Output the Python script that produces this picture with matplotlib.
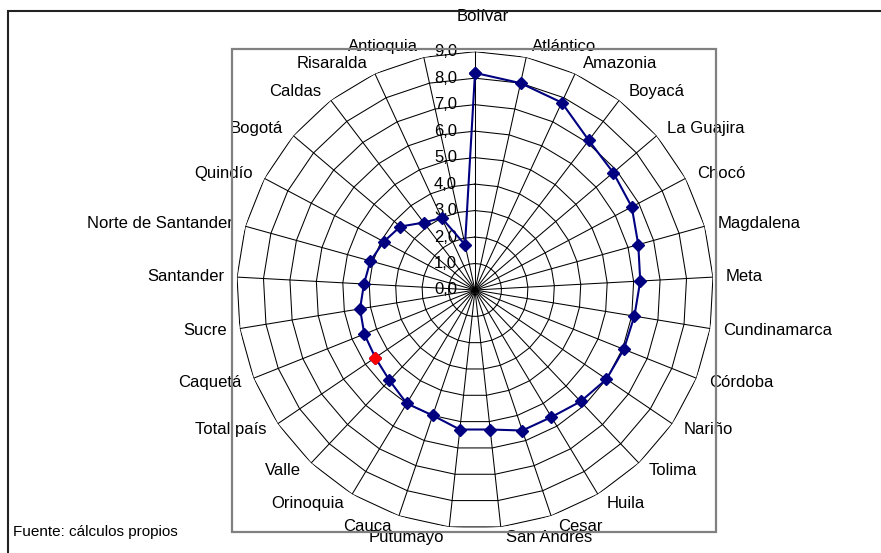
import numpy as np
import matplotlib.pyplot as plt
from matplotlib.patches import Rectangle

# indicador por departamento / región, ordenado de mayor a menor
categorias = ['Bolívar', 'Atlántico', 'Amazonia', 'Boyacá', 'La Guajira', 'Chocó',
              'Magdalena', 'Meta', 'Cundinamarca', 'Córdoba', 'Nariño', 'Tolima',
              'Huila', 'Cesar', 'San Andrés', 'Putumayo', 'Cauca', 'Orinoquia',
              'Valle', 'Total país', 'Caquetá', 'Sucre', 'Santander',
              'Norte de Santander', 'Quindío', 'Bogotá', 'Caldas', 'Risaralda',
              'Antioquia']
valores = [8.2, 8.0, 7.8, 7.1, 6.85, 6.7, 6.4, 6.25, 6.1, 6.05, 6.0, 5.8,
           5.6, 5.6, 5.3, 5.3, 5.0, 5.0, 4.7, 4.55, 4.5, 4.4, 4.2, 4.1, 3.9,
           3.7, 3.2, 3.0, 1.75]
anillos = np.arange(0, 10)
destacado = 'Total país'

plt.rcParams['font.family'] = ['Liberation Sans', 'DejaVu Sans']

W, H = 881, 553
fig = plt.figure(figsize=(W / 100, H / 100), dpi=100)

# marco exterior y área de trazado
fig.patches.append(Rectangle((8 / W, -0.1), 1.2, 1 - 11 / H + 0.1,
                             transform=fig.transFigure, fill=False,
                             edgecolor='#222222', linewidth=1.5, clip_on=False))
fig.patches.append(Rectangle((232 / W, (H - 532) / H), 484 / W, 483 / H,
                             transform=fig.transFigure, fill=False,
                             edgecolor='#808080', linewidth=1.6))

cx, cy, R = 475, 290, 238.3
ax = fig.add_axes([(cx - R) / W, (H - cy - R) / H, 2 * R / W, 2 * R / H],
                  projection='polar')
ax.set_theta_zero_location('N')
ax.set_theta_direction(-1)
ax.set_ylim(0, 9)
ax.grid(False)
ax.set_xticks([])
ax.set_yticks([])
ax.spines['polar'].set_visible(False)
ax.patch.set_alpha(0)

n = len(categorias)
theta = np.arange(n) * 2 * np.pi / n
theta_c = np.append(theta, theta[0])

# rejilla poligonal y radios
for r in anillos[1:]:
    ax.plot(theta_c, np.full(n + 1, r), color='black', lw=0.75, zorder=1)
for t in theta:
    ax.plot([t, t], [0, 9.12], color='black', lw=0.75, zorder=1)

# etiquetas del eje de valores
for r in anillos:
    ax.annotate(f'{r:.1f}'.replace('.', ','), xy=(0, r), xytext=(-18, 0),
                textcoords='offset pixels', ha='right', va='center',
                fontsize=12, zorder=3)

# etiquetas de categorías
for t, nombre in zip(theta, categorias):
    s, c = np.sin(t), np.cos(t)
    if abs(s) < 0.01:
        dx, dy, ha = 8, 35, 'center'
    else:
        dx = np.sign(s) * (4 + 9 * abs(s))
        dy = 11 * c
        ha = 'left' if s > 0 else 'right'
    ax.annotate(nombre, xy=(t, 9), xytext=(dx, dy), textcoords='offset pixels',
                ha=ha, va='center', fontsize=12, annotation_clip=False)

# serie
vals_c = np.append(valores, valores[0])
ax.plot(theta_c, vals_c, color='#000080', lw=1.5, marker='D', ms=6.5,
        markerfacecolor='#000080', markeredgecolor='#000080', zorder=4)
i = categorias.index(destacado)
ax.plot(theta[i], valores[i], marker='D', ms=6.5, color='#ff0000', zorder=5)

fig.text(13 / W, (H - 536) / H, 'Fuente: cálculos propios', fontsize=11,
         ha='left', va='baseline')

fig.savefig('out.png', dpi=100)
